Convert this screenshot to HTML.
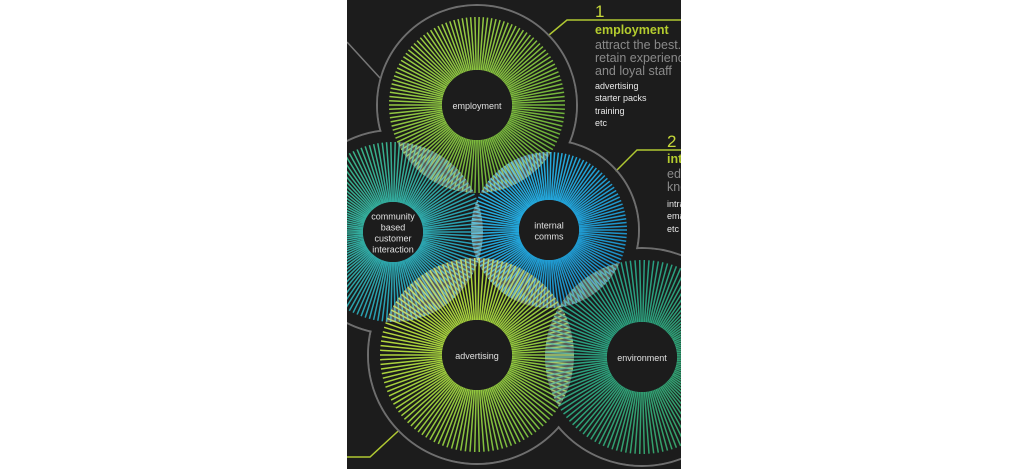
<!DOCTYPE html>
<html><head><meta charset="utf-8"><style>
html,body{margin:0;padding:0;background:#fff;width:1023px;height:469px;overflow:hidden}
#p{position:absolute;left:347px;top:0;width:334px;height:469px;background:#1c1c1c;overflow:hidden}
svg{position:absolute;left:0;top:0}
.t{position:absolute;font-family:"Liberation Sans",sans-serif;white-space:nowrap}
</style></head><body>
<div id="p">
<svg id="s" width="334" height="469" xmlns="http://www.w3.org/2000/svg"></svg>
<div class="t" style="left:248px;top:2px;font-size:17px;color:#c6d83a">1</div>
<div class="t" style="left:248px;top:23px;font-size:12.5px;font-weight:bold;color:#b4cc2e">employment</div>
<div class="t" style="left:248px;top:39px;font-size:12.5px;color:#8a8a8a;line-height:13px">attract the best.<br>retain experience<br>and loyal staff</div>
<div class="t" style="left:248px;top:80px;font-size:9px;color:#e8e8e8;line-height:12.4px">advertising<br>starter packs<br>training<br>etc</div>
<div class="t" style="left:320px;top:132px;font-size:17px;color:#c6d83a">2</div>
<div class="t" style="left:320px;top:152px;font-size:12.5px;font-weight:bold;color:#b4cc2e">internal</div>
<div class="t" style="left:320px;top:168px;font-size:12.5px;color:#8a8a8a;line-height:13px">educate<br>knowledge</div>
<div class="t" style="left:320px;top:198px;font-size:9px;color:#e8e8e8;line-height:12.4px">intranet<br>email<br>etc</div>
</div>
<script>
var s=document.getElementById('s'),NS='http://www.w3.org/2000/svg';
function el(n,a,p){var e=document.createElementNS(NS,n);for(var k in a)e.setAttribute(k,a[k]);(p||s).appendChild(e);return e;}
var C=[
{x:130,y:105,r:88,ri:35,c1:'#a6d444',c2:'#5fa838',t:['employment']},
{x:46,y:232,r:90,ri:30,c1:'#40b878',c2:'#1e96d0',t:['community','based','customer','interaction']},
{x:202,y:230,r:78,ri:30,c1:'#28b8e8',c2:'#1a86c0',t:['internal','comms']},
{x:130,y:355,r:97,ri:35,c1:'#c8e03a',c2:'#6cb640',t:['advertising']},
{x:295,y:357,r:97,ri:35,c1:'#22a090',c2:'#3aa060',t:['environment']}];
el('polyline',{points:'0,42 33,78',stroke:'#777',fill:'none','stroke-width':1.5});
el('polyline',{points:'334,20 220,20 190,45',stroke:'#b0c832',fill:'none','stroke-width':1.5});
el('polyline',{points:'334,150 290,150 266,174',stroke:'#b0c832',fill:'none','stroke-width':1.5});
el('polyline',{points:'0,457 23,457 100,386',stroke:'#b0c832',fill:'none','stroke-width':1.5});
el('polyline',{points:'334,316 318,336',stroke:'#b0c832',fill:'none','stroke-width':1.5});
C.forEach(function(c){el('circle',{cx:c.x,cy:c.y,r:c.r+12,fill:'none',stroke:'#6e6e6e','stroke-width':2});});
C.forEach(function(c){el('circle',{cx:c.x,cy:c.y,r:c.r+11,fill:'#1c1c1c'});});
var defs=el('defs',{});
C.forEach(function(c,i){
 var cp=el('clipPath',{id:'c'+i},defs);el('circle',{cx:c.x,cy:c.y,r:c.r},cp);
 var g=el('linearGradient',{id:'g'+i,x1:0,y1:0,x2:1,y2:1},defs);
 el('stop',{offset:0,'stop-color':c.c1},g);el('stop',{offset:1,'stop-color':c.c2},g);
});
C.forEach(function(c,i){
 var d='';var N=130;for(var k=0;k<N;k++){var a=k*2*Math.PI/N;d+='M'+(c.x+c.ri*Math.cos(a)).toFixed(1)+' '+(c.y+c.ri*Math.sin(a)).toFixed(1)+'L'+(c.x+c.r*Math.cos(a)).toFixed(1)+' '+(c.y+c.r*Math.sin(a)).toFixed(1);}
 el('path',{d:d,stroke:'url(#g'+i+')','stroke-width':1.5,fill:'none'});
});
for(var i=0;i<C.length;i++)for(var j=i+1;j<C.length;j++){
 var a=C[i],b=C[j];if(Math.hypot(a.x-b.x,a.y-b.y)<a.r+b.r){
  el('circle',{cx:a.x,cy:a.y,r:a.r,fill:'#dfe3d0',opacity:0.32,'clip-path':'url(#c'+j+')'});}}
C.forEach(function(c){
 el('circle',{cx:c.x,cy:c.y,r:c.ri,fill:'#1c1c1c'});
 var n=c.t.length;c.t.forEach(function(t,k){var tx=el('text',{x:c.x,y:c.y+4+(k-(n-1)/2)*11,'text-anchor':'middle','font-family':'Liberation Sans, sans-serif','font-size':9,fill:'#e0e0e0'});tx.textContent=t;});
});
</script>
</body></html>
